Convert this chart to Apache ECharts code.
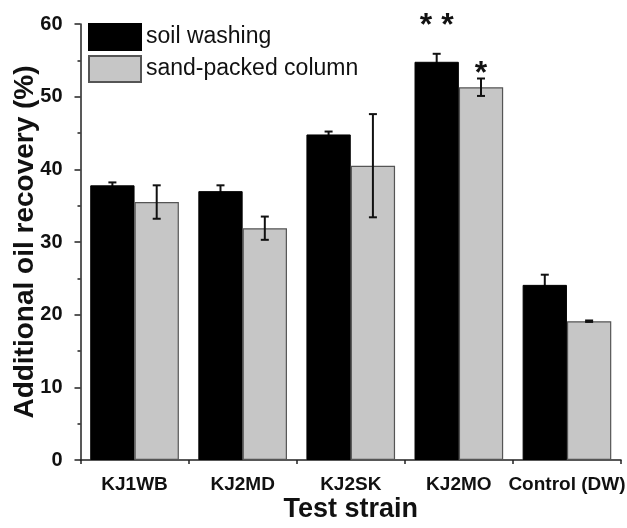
<!DOCTYPE html>
<html>
<head>
<meta charset="utf-8">
<script src="https://cdn.jsdelivr.net/npm/echarts@6/dist/echarts.min.js"></script>
<style>html,body{margin:0;padding:0;background:#fff;}#c{width:627px;height:528px;}</style>
</head>
<body>
<div id="c"></div>
<script>
var categories = ['KJ1WB', 'KJ2MD', 'KJ2SK', 'KJ2MO', 'Control (DW)'];
var soilWashing = [37.8, 37.0, 44.8, 54.8, 24.1];
var soilWashingErr = [0.4, 0.8, 0.4, 1.1, 1.4];
var sandColumn = [35.5, 31.9, 40.5, 51.3, 19.1];
var sandColumnErr = [2.3, 1.6, 7.1, 1.2, 0.1];
var soilSig = ['', '', '', '**', ''];
var sandSig = ['', '', '', '*', ''];
var yTicks = [0, 10, 20, 30, 40, 50, 60];

var GAP = 0.18;
var FONT = 'Liberation Sans, Arial, sans-serif';
var SIG_LIFT = { '**': 28, '*': 4 };

function errSeries(vals, errs, sigs, side, z) {
  var data = vals.map(function (v, i) { return [i, v, errs[i]]; });
  return {
    type: 'custom',
    xAxisIndex: 0,
    yAxisIndex: 0,
    clip: false,
    z: z,
    silent: true,
    data: data,
    renderItem: function (params, api) {
      var i = api.value(0), v = api.value(1), e = api.value(2);
      var sig = sigs[params.dataIndex];
      var band = api.size([1, 0])[0];
      var bw = band * (1 - GAP) / 2;
      var c = api.coord([i, v]);
      var x = c[0] + side * bw / 2;
      var yt = api.coord([i, v + e])[1];
      var yb = api.coord([i, v - e])[1];
      var cap = 4;
      var style = { stroke: '#111', lineWidth: 2 };
      var children = [
        { type: 'line', shape: { x1: x, y1: yt, x2: x, y2: yb }, style: style },
        { type: 'line', shape: { x1: x - cap, y1: yt, x2: x + cap, y2: yt }, style: style },
        { type: 'line', shape: { x1: x - cap, y1: yb, x2: x + cap, y2: yb }, style: style }
      ];
      if (sig) {
        children.push({
          type: 'text',
          z2: 10,
          style: {
            text: sig.split('').join(' '), x: x, y: yt - SIG_LIFT[sig], align: 'center', verticalAlign: 'middle',
            font: 'bold 32px ' + FONT, fill: '#111'
          }
        });
      }
      return { type: 'group', children: children };
    }
  };
}

var chart = echarts.init(document.getElementById('c'), null, { renderer: 'canvas' });
chart.setOption({
  backgroundColor: '#ffffff',
  animation: false,
  grid: { left: 80.5, right: 6, top: 24, bottom: 68, containLabel: false, outerBoundsMode: 'none' },
  legend: {
    left: 88, top: 23, orient: 'vertical', padding: 0,
    itemWidth: 52, itemHeight: 26, itemGap: 4,
    icon: 'rect',
    textStyle: { fontFamily: FONT, fontSize: 23, color: '#111', lineHeight: 26 },
    data: ['soil washing', 'sand-packed column']
  },
  xAxis: [{
    type: 'category',
    data: categories,
    name: 'Test strain',
    nameLocation: 'middle',
    nameMoveOverlap: false,
    nameGap: 36,
    nameTextStyle: { fontFamily: FONT, fontSize: 27, fontWeight: 'bold', color: '#111' },
    axisLine: { lineStyle: { color: '#222', width: 1.5 } },
    axisTick: { alignWithLabel: true, length: 6, lineStyle: { color: '#222', width: 1.5 } },
    axisLabel: { fontFamily: FONT, fontSize: 19, fontWeight: 'bold', color: '#111', margin: 15, interval: 0 }
  }, {
    type: 'category',
    data: categories,
    position: 'bottom',
    axisLine: { show: false },
    axisTick: { show: true, length: 4, lineStyle: { color: '#222', width: 1.5 } },
    axisLabel: { show: false }
  }],
  yAxis: {
    type: 'value',
    min: yTicks[0], max: yTicks[yTicks.length - 1], interval: 10,
    name: 'Additional oil recovery (%)',
    nameLocation: 'middle',
    nameMoveOverlap: false,
    nameGap: 41,
    nameTextStyle: { fontFamily: FONT, fontSize: 28, fontWeight: 'bold', color: '#111' },
    axisLine: { show: true, lineStyle: { color: '#222', width: 1.5 } },
    axisTick: { show: true, length: 6, lineStyle: { color: '#222', width: 1.5 } },
    minorTick: { show: true, splitNumber: 2, length: 3, lineStyle: { color: '#222', width: 1.5 } },
    splitLine: { show: false },
    axisLabel: { fontFamily: FONT, fontSize: 20, fontWeight: 'bold', color: '#111', margin: 18 }
  },
  series: [{
    name: 'soil washing',
    type: 'bar',
    z: 2,
    data: soilWashing,
    barGap: '0%',
    barCategoryGap: (GAP * 100) + '%',
    itemStyle: { color: '#000', borderColor: '#000', borderWidth: 1 }
  }, {
    name: 'sand-packed column',
    type: 'bar',
    z: 2,
    data: sandColumn,
    barGap: '0%',
    barCategoryGap: (GAP * 100) + '%',
    itemStyle: { color: '#c6c6c6', borderColor: '#555', borderWidth: 1.2 }
  },
  errSeries(soilWashing, soilWashingErr, soilSig, -1, 1),
  errSeries(sandColumn, sandColumnErr, sandSig, 1, 5)
  ]
});
</script>
</body>
</html>
